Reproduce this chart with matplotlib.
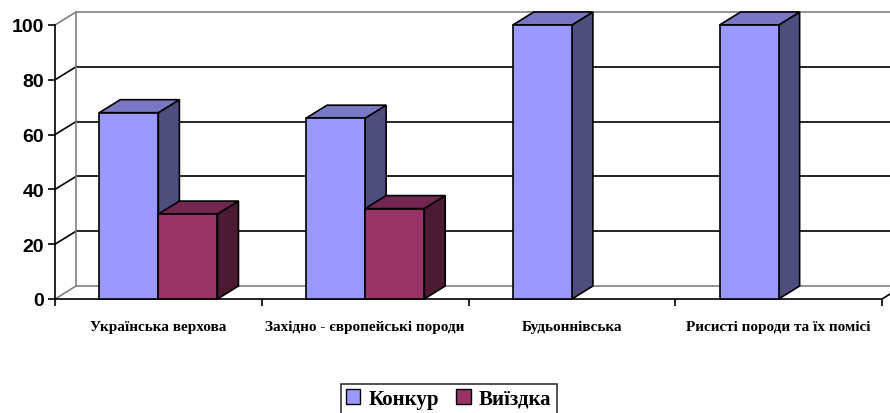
import matplotlib.pyplot as plt
from matplotlib.patches import Polygon, Patch

# дані
categories = ['Українська верхова', 'Західно - європейські породи', 'Будьоннівська',
              'Рисисті породи та їх помісі']
konkur = [68, 66, 100, 100]
vyizdka = [31, 33, 0, 0]
series_names = ['Конкур', 'Виїздка']
yticks = [0, 20, 40, 60, 80, 100]

# кольори (front, top, side)
colors = [('#9999FF', '#7777C4', '#4D4D80'),
          ('#993366', '#732650', '#4D1A33')]

fig = plt.figure(figsize=(8.9, 4.14), dpi=100)
ax = fig.add_axes([55 / 890, 114 / 414, 827 / 890, 274 / 414])
ax.set_xlim(0, len(categories))
ax.set_ylim(0, 100)

# глибина 3D в одиницях даних
dx, dy = 0.1016, 4.74
n = len(categories)

for s in ['top', 'right']:
    ax.spines[s].set_visible(False)
ax.spines['left'].set_linewidth(1.2)
ax.spines['bottom'].set_linewidth(1.2)

# стіни та підлога
grey = '#808080'
for g in yticks:
    c = 'black' if 0 < g < 100 else grey
    ax.plot([dx, n + dx], [g + dy, g + dy], color=c, lw=1.2, clip_on=False, zorder=1)
    ax.plot([0, dx], [g, g + dy], color=c, lw=1.2, clip_on=False, zorder=1)
ax.plot([dx, dx], [dy, 100 + dy], color=grey, lw=1.2, clip_on=False, zorder=1)
ax.plot([n, n + dx], [0, dy], color='black', lw=1.2, clip_on=False, zorder=1)

# стовпці
w = 1 / 3.5
for i in range(n):
    for k, vals in enumerate([konkur, vyizdka]):
        v = vals[i]
        if v <= 0:
            continue
        x0 = i + 0.75 * w + k * w
        x1 = x0 + w
        front, top, side = colors[k]
        z = 3 + k
        ax.add_patch(Polygon([(x1, 0), (x1 + dx, dy), (x1 + dx, v + dy), (x1, v)],
                             closed=True, fc=side, ec='black', lw=1.2, clip_on=False, zorder=z))
        ax.add_patch(Polygon([(x0, v), (x0 + dx, v + dy), (x1 + dx, v + dy), (x1, v)],
                             closed=True, fc=top, ec='black', lw=1.2, clip_on=False, zorder=z))
        ax.add_patch(Polygon([(x0, 0), (x0, v), (x1, v), (x1, 0)],
                             closed=True, fc=front, ec='black', lw=1.2, clip_on=False, zorder=z))

# осі
ax.set_yticks(yticks)
ax.set_yticklabels([str(t) for t in yticks], fontsize=14, fontweight='bold',
                   family='Liberation Sans')
ax.tick_params(axis='y', direction='out', length=5, width=1.2, pad=3)
ax.set_xticks(range(n + 1))
ax.set_xticklabels([])
ax.tick_params(axis='x', which='major', direction='out', length=5, width=1.2)
ax.set_xticks([i + 0.5 for i in range(n)], minor=True)
ax.set_xticklabels(categories, minor=True, fontsize=11, fontweight='bold',
                   family='Liberation Serif')
ax.tick_params(axis='x', which='minor', length=0, pad=15)

# легенда
handles = [Patch(fc=colors[k][0], ec='black', lw=1) for k in range(2)]
leg = fig.legend(handles, series_names, loc='center', bbox_to_anchor=(0.504, 14 / 414),
                 ncol=2, frameon=True, fancybox=False, edgecolor='black',
                 prop={'family': 'Liberation Serif', 'weight': 'bold', 'size': 15},
                 handlelength=0.7, handleheight=0.7, handletextpad=0.4, columnspacing=0.8,
                 borderpad=0.25, borderaxespad=0)
leg.get_frame().set_linewidth(1.2)

fig.savefig('out.png', dpi=100)
